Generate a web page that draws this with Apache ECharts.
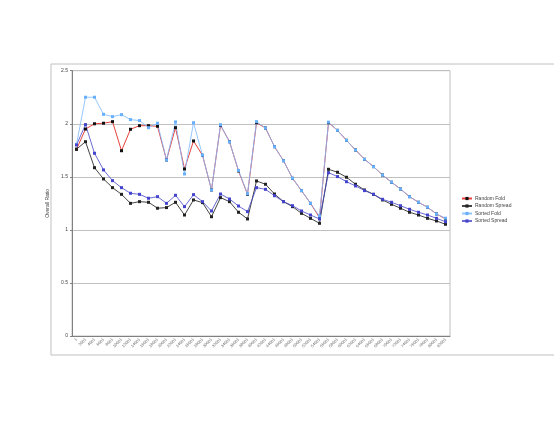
<!DOCTYPE html>
<html>
<head>
<meta charset="utf-8">
<script src="https://cdn.jsdelivr.net/npm/echarts@6/dist/echarts.min.js"></script>
<style>
  html, body { margin: 0; padding: 0; background: #fff; }
  #main { width: 554px; height: 428px; }
</style>
</head>
<body>
<div id="main"></div>
<script>
// x categories (tick labels)
const categories = [];
for (let k = 0; k < 42; k++) categories.push(k === 0 ? "1" : String(k * 2000 + 1));

const randomFold = [1.76, 1.95, 2.00, 2.005, 2.02, 1.746, 1.948, 1.982, 1.982, 1.976,
  1.659, 1.963, 1.574, 1.838, 1.703, 1.376, 1.985, 1.831, 1.555, 1.335,
  2.01, 1.96, 1.784, 1.652, 1.486, 1.37, 1.25, 1.115, 2.01, 1.938,
  1.844, 1.753, 1.665, 1.596, 1.517, 1.449, 1.385, 1.313, 1.26, 1.213,
  1.15, 1.103];
const randomSpread = [1.76, 1.831, 1.586, 1.48, 1.398, 1.335, 1.25, 1.266, 1.26, 1.204,
  1.21, 1.26, 1.14, 1.282, 1.257, 1.124, 1.304, 1.266, 1.166, 1.103,
  1.461, 1.43, 1.338, 1.266, 1.219, 1.156, 1.109, 1.062, 1.571, 1.543,
  1.496, 1.43, 1.376, 1.335, 1.282, 1.241, 1.204, 1.166, 1.14, 1.109,
  1.084, 1.053];
const sortedFold = [1.806, 2.25, 2.25, 2.089, 2.067, 2.086, 2.039, 2.03, 1.963, 2.005,
  1.659, 2.017, 1.527, 2.01, 1.703, 1.376, 1.99, 1.83, 1.56, 1.34,
  2.02, 1.96, 1.784, 1.652, 1.486, 1.37, 1.25, 1.13, 2.015, 1.938,
  1.844, 1.753, 1.665, 1.596, 1.517, 1.449, 1.385, 1.313, 1.26, 1.213,
  1.15, 1.11];
const sortedSpread = [1.80, 1.992, 1.722, 1.565, 1.464, 1.398, 1.345, 1.335, 1.298, 1.313,
  1.25, 1.326, 1.219, 1.332, 1.266, 1.178, 1.338, 1.291, 1.225, 1.172,
  1.398, 1.382, 1.322, 1.266, 1.228, 1.178, 1.14, 1.103, 1.539, 1.502,
  1.454, 1.414, 1.37, 1.335, 1.288, 1.26, 1.228, 1.194, 1.166, 1.14,
  1.109, 1.077];

const chart = echarts.init(document.getElementById("main"));

function line(name, data, lineColor, markColor) {
  return {
    name: name,
    type: "line",
    data: data,
    symbol: "rect",
    symbolSize: 3,
    showAllSymbol: true,
    lineStyle: { color: lineColor, width: 1 },
    itemStyle: { color: markColor, borderWidth: 0 },
    emphasis: { disabled: true },
    animation: false
  };
}

chart.setOption({
  backgroundColor: "#fff",
  textStyle: { fontFamily: "Liberation Sans" },
  graphic: [
    {
      // outer chart-area frame, right side runs off the page
      type: "rect",
      shape: { x: 51, y: 64, width: 560, height: 291 },
      style: { fill: "none", stroke: "#c0c0c0", lineWidth: 1 },
      silent: true
    }
  ],
  legend: {
    orient: "vertical",
    left: 456,
    top: 191,
    itemWidth: 10,
    itemHeight: 4,
    itemGap: 2.5,
    itemStyle: { borderWidth: 0 },
    textStyle: { fontSize: 5, color: "#444", padding: [0, 0, 0, -2] },
    data: ["Random Fold", "Random Spread", "Sorted Fold", "Sorted Spread"]
  },
  grid: { left: 72, right: 104, top: 70.7, bottom: 92, show: true, borderColor: "#c0c0c0", borderWidth: 1, backgroundColor: "transparent" },
  xAxis: {
    type: "category",
    data: categories,
    boundaryGap: true,
    axisLine: { lineStyle: { color: "#808080" } },
    axisTick: { length: 2, lineStyle: { color: "#808080" } },
    axisLabel: { rotate: 45, fontSize: 4, color: "#666", interval: 0, margin: 3 },
    splitLine: { show: false }
  },
  yAxis: {
    type: "value",
    min: 0,
    max: 2.5,
    interval: 0.5,
    name: "Overall Ratio",
    nameLocation: "middle",
    nameGap: 11,
    nameRotate: 90,
    nameTextStyle: { fontSize: 5, color: "#444" },
    axisLine: { show: true, lineStyle: { color: "#808080" } },
    axisTick: { show: true, length: 2, lineStyle: { color: "#808080" } },
    axisLabel: { fontSize: 5, color: "#444", margin: 4 },
    splitLine: { lineStyle: { color: "#c0c0c0", width: 1 } }
  },
  series: [
    line("Random Fold", randomFold, "#e8403c", "#111"),
    line("Random Spread", randomSpread, "#444", "#222"),
    line("Sorted Fold", sortedFold, "rgba(130,188,255,0.85)", "#66b0ff"),
    line("Sorted Spread", sortedSpread, "rgba(70,70,200,0.8)", "#4444cc")
  ]
});
</script>
</body>
</html>
